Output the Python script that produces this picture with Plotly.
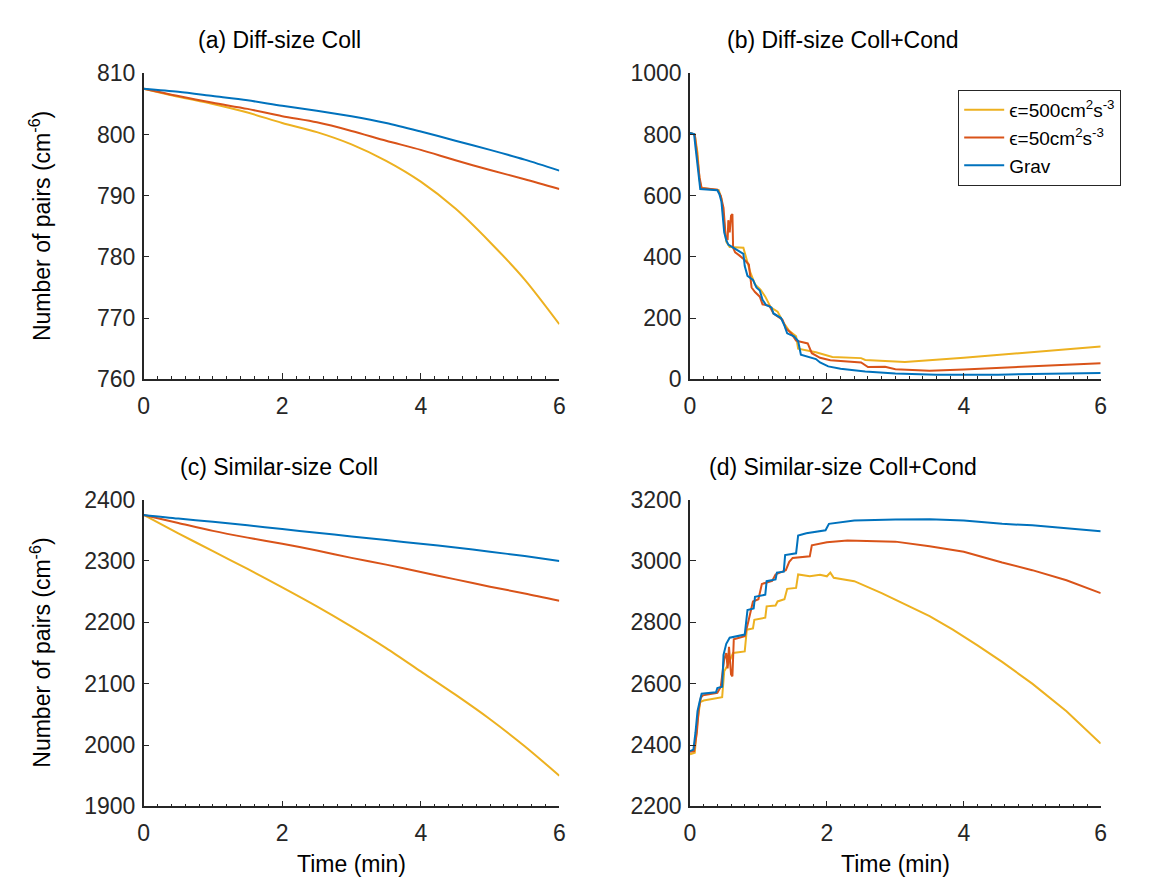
import plotly.graph_objects as go

# ---------------- data ----------------
# (a) Diff-size Coll
a_t = [0, 0.5, 1, 1.5, 2, 2.5, 3, 3.5, 4, 4.5, 5, 5.5, 6]
a_grav = [807.5, 807.0, 806.3, 805.6, 804.7, 803.9, 803.0, 801.9, 800.5, 799.0, 797.5, 795.9, 794.1]
a_e50 = [807.5, 806.3, 805.2, 804.2, 803.0, 802.0, 800.6, 799.0, 797.5, 795.8, 794.2, 792.7, 791.1]
a_e500 = [807.5, 806.2, 805.0, 803.6, 801.9, 800.4, 798.4, 795.7, 792.3, 787.9, 782.4, 776.3, 769.0]

# (b) Diff-size Coll+Cond
b_grav_t = [0, 0.06, 0.08, 0.11, 0.13, 0.15, 0.40, 0.43, 0.46, 0.48, 0.50, 0.53, 0.56, 0.62, 0.70, 0.78,
            0.80, 0.84, 0.92, 0.97, 1.02, 1.06, 1.11, 1.19, 1.22, 1.33, 1.38, 1.42, 1.52, 1.58, 1.62,
            1.75, 1.84, 1.90, 2.02, 2.2, 2.56, 3.0, 3.6, 4.5, 5.3, 6.0]
b_grav = [805, 802, 760, 700, 650, 622, 618, 605, 580, 540, 480, 455, 440, 432, 420, 410,
          370, 338, 325, 300, 290, 260, 243, 235, 215, 200, 175, 150, 140, 125, 80,
          72, 66, 55, 42, 34, 25, 19, 15, 15, 17, 20]
b_e50_t = [0, 0.07, 0.10, 0.14, 0.17, 0.40, 0.45, 0.49, 0.52, 0.55, 0.56, 0.58, 0.60, 0.62, 0.63, 0.66,
           0.72, 0.80, 0.86, 0.90, 0.95, 1.02, 1.06, 1.16, 1.22, 1.35, 1.40, 1.48, 1.55, 1.72, 1.78,
           1.90, 2.05, 2.5, 2.6, 2.85, 3.0, 3.5, 4.0, 5.0, 6.0]
b_e50 = [805, 800, 740, 660, 625, 620, 600, 560, 470, 455, 520, 480, 535, 540, 430, 415,
         405, 390, 375, 300, 285, 270, 245, 240, 215, 195, 167, 150, 126, 117, 85,
         70, 62, 55, 40, 41, 33, 28, 32, 42, 52]
b_e500_t = [0, 0.07, 0.11, 0.14, 0.17, 0.42, 0.46, 0.50, 0.53, 0.58, 0.78, 0.83, 0.88, 0.95, 1.03, 1.10,
            1.18, 1.28, 1.38, 1.45, 1.55, 1.58, 1.70, 1.84, 2.08, 2.5, 2.56, 3.0, 3.14, 4.0, 5.0, 6.0]
b_e500 = [805, 800, 740, 650, 625, 618, 590, 500, 450, 432, 430, 390, 350, 310, 293, 270,
          235, 221, 180, 158, 140, 100, 95, 88, 73, 69, 63, 57, 56, 70, 88, 107]

# (c) Similar-size Coll
c_t = [0, 0.5, 1, 1.5, 2, 2.5, 3, 3.5, 4, 4.5, 5, 5.5, 6]
c_grav = [2375, 2369, 2364, 2358, 2352, 2346, 2340, 2334, 2328, 2322, 2315, 2308, 2300]
c_e50 = [2375, 2362, 2349, 2338, 2328, 2317, 2305, 2294, 2282, 2270, 2258, 2247, 2235]
c_e500 = [2375, 2345, 2316, 2287, 2257, 2226, 2193, 2158, 2120, 2082, 2042, 1998, 1950]

# (d) Similar-size Coll+Cond
d_grav_t = [0, 0.05, 0.08, 0.11, 0.14, 0.17, 0.38, 0.40, 0.47, 0.49, 0.53, 0.58, 0.80, 0.84, 0.93, 0.95,
            1.10, 1.12, 1.25, 1.27, 1.37, 1.39, 1.55, 1.58, 1.70, 1.98, 2.03, 2.4, 3.0, 3.5, 4.0,
            4.56, 5.0, 5.5, 6.0]
d_grav = [2380, 2385, 2440, 2510, 2540, 2567, 2572, 2586, 2590, 2694, 2730, 2750, 2760, 2840, 2845, 2883,
          2890, 2934, 2940, 2962, 2965, 3019, 3025, 3083, 3090, 3100, 3121, 3132, 3135, 3136, 3132,
          3121, 3116, 3107, 3097]
d_e50_t = [0, 0.06, 0.10, 0.13, 0.16, 0.19, 0.40, 0.45, 0.50, 0.53, 0.55, 0.57, 0.60, 0.62, 0.64, 0.80,
           0.85, 0.92, 1.0, 1.05, 1.20, 1.25, 1.40, 1.45, 1.50, 1.75, 1.78, 2.0, 2.3, 2.6, 3.0,
           3.5, 4.0, 4.56, 5.0, 5.5, 6.0]
d_e50 = [2378, 2380, 2440, 2520, 2555, 2562, 2570, 2590, 2680, 2700, 2650, 2720, 2630, 2624, 2745, 2755,
         2800, 2868, 2875, 2925, 2935, 2956, 2970, 2997, 3010, 3015, 3051, 3061, 3067, 3065, 3063,
         3048, 3030, 2995, 2970, 2937, 2895]
d_e500_t = [0, 0.07, 0.11, 0.15, 0.20, 0.40, 0.47, 0.50, 0.55, 0.63, 0.80, 0.83, 0.92, 0.94, 1.10, 1.12,
            1.25, 1.28, 1.38, 1.42, 1.55, 1.58, 1.75, 1.9, 2.0, 2.05, 2.1, 2.4, 2.8, 3.12, 3.5,
            3.84, 4.2, 4.56, 5.0, 5.5, 6.0]
d_e500 = [2370, 2375, 2480, 2540, 2545, 2552, 2556, 2640, 2660, 2700, 2705, 2776, 2780, 2808, 2815, 2852,
          2855, 2868, 2875, 2909, 2912, 2956, 2950, 2955, 2950, 2962, 2945, 2934, 2895, 2861, 2820,
          2776, 2725, 2671, 2600, 2510, 2405]

labels = ["ϵ=500cm<sup>2</sup>s<sup>-3</sup>", "ϵ=50cm<sup>2</sup>s<sup>-3</sup>", "Grav"]
colors = ["#EDB120", "#D95319", "#0072BD"]
titles = ["(a) Diff-size Coll", "(b) Diff-size Coll+Cond",
          "(c) Similar-size Coll", "(d) Similar-size Coll+Cond"]

panels = [
    ([a_t, a_t, a_t], [a_e500, a_e50, a_grav]),
    ([b_e500_t, b_e50_t, b_grav_t], [b_e500, b_e50, b_grav]),
    ([c_t, c_t, c_t], [c_e500, c_e50, c_grav]),
    ([d_e500_t, d_e50_t, d_grav_t], [d_e500, d_e50, d_grav]),
]
smooth_panel = [True, False, True, False]
yranges = [[760, 810], [0, 1000], [1900, 2400], [2200, 3200]]
ydticks = [10, 200, 100, 200]

# ---------------- figure ----------------
W, H = 1167, 890
xdom = [[131 / W, 551 / W], [683 / W, 1098 / W]]
ydom = [[1 - 369 / H, 1 - 54 / H], [1 - 809 / H, 1 - 493 / H]]
title_cx = [268 / W, 838 / W]

FONT = "Liberation Sans, Arial, Helvetica, sans-serif"
AX = "#262626"
FS = 23

fig = go.Figure()
for p, (xs, ys) in enumerate(panels):
    sfx = "" if p == 0 else str(p + 1)
    for k in range(3):
        line = dict(color=colors[k], width=2)
        if smooth_panel[p]:
            line.update(shape="spline", smoothing=0.8)
        fig.add_trace(go.Scatter(
            x=xs[k], y=ys[k], mode="lines", name=labels[k], line=line,
            xaxis="x" + sfx, yaxis="y" + sfx,
            showlegend=(p == 1), legendrank=k + 1,
        ))

layout = dict(
    width=W, height=H, autosize=False,
    margin=dict(l=0, r=0, t=0, b=0),
    paper_bgcolor="white", plot_bgcolor="white",
    font=dict(family=FONT, size=FS, color=AX),
    legend=dict(x=954 / W, y=1 - 71 / H, xanchor="left", yanchor="top",
                bordercolor=AX, borderwidth=1, bgcolor="white",
                font=dict(size=19, color="#000000"), tracegroupgap=0,
                itemwidth=40),
    annotations=[],
)
for p in range(4):
    sfx = "" if p == 0 else str(p + 1)
    col, row = p % 2, p // 2
    layout["xaxis" + sfx] = dict(
        domain=xdom[col], range=[0, 6], anchor="y" + sfx,
        tickmode="linear", tick0=0, dtick=2,
        showline=True, linecolor=AX, linewidth=1.5,
        ticks="inside", ticklen=6, tickwidth=1.2, tickcolor=AX,
        minor=dict(dtick=0.2, ticks="inside", ticklen=3, tickwidth=1, tickcolor=AX),
        showgrid=False, zeroline=False, ticklabelstandoff=5,
        tickfont=dict(size=FS, color=AX),
    )
    layout["yaxis" + sfx] = dict(
        domain=ydom[row], range=yranges[p], anchor="x" + sfx,
        tickmode="linear", tick0=yranges[p][0], dtick=ydticks[p],
        showline=True, linecolor=AX, linewidth=1.5,
        ticks="inside", ticklen=6, tickwidth=1.2, tickcolor=AX,
        showgrid=False, zeroline=False, ticklabelstandoff=2,
        tickfont=dict(size=FS, color=AX),
    )
    layout["annotations"].append(dict(
        text=titles[p], xref="paper", yref="paper",
        x=title_cx[col],
        y=ydom[row][1] + 34 / H, xanchor="center", yanchor="middle",
        showarrow=False, font=dict(size=FS, color="#000000"),
    ))

for row in range(2):
    layout["annotations"].append(dict(
        text="Number of pairs (cm<sup>-6</sup>)", xref="paper", yref="paper",
        x=27 / W, y=(ydom[row][0] + ydom[row][1]) / 2, textangle=-90,
        xanchor="center", yanchor="middle", showarrow=False,
        font=dict(size=FS, color="#000000"),
    ))
for col in range(2):
    layout["annotations"].append(dict(
        text="Time (min)", xref="paper", yref="paper",
        x=(xdom[col][0] + xdom[col][1]) / 2, y=1 - 868 / H,
        xanchor="center", yanchor="middle", showarrow=False,
        font=dict(size=FS, color="#000000"),
    ))

fig.update_layout(**layout)
fig.write_html("out.html")
